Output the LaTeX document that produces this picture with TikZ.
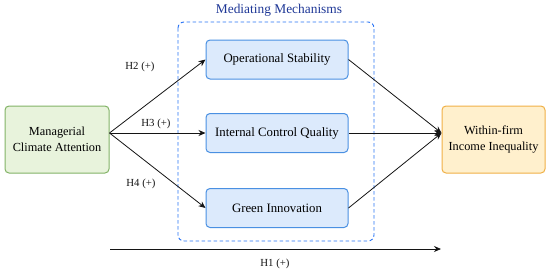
\documentclass[tikz,border=0pt]{standalone}
\usepackage{fontspec}
\setmainfont{Liberation Serif}
\usepackage{tikz}
\usetikzlibrary{arrows.meta,calc,positioning}
\definecolor{ink}{RGB}{20,20,20}
\definecolor{causefill}{RGB}{232,243,220}
\definecolor{causestroke}{RGB}{130,179,102}
\definecolor{medfill}{RGB}{220,234,252}
\definecolor{medstroke}{RGB}{74,144,226}
\definecolor{outfill}{RGB}{255,240,205}
\definecolor{outstroke}{RGB}{240,176,70}
\definecolor{groupstroke}{RGB}{40,115,245}
\definecolor{grouptitle}{RGB}{30,55,150}
\tikzset{
  var/.style={
    draw=#1, line width=1pt, rounded corners=4pt,
    minimum height=67pt, minimum width=104pt,
    align=center, font=\fontsize{12.3}{15.5}\selectfont, inner sep=0pt,
  },
  var/.default=ink,
  med/.style={
    draw=medstroke, fill=medfill, line width=1pt, rounded corners=4pt,
    minimum height=39pt, minimum width=142pt,
    align=center, font=\fontsize{12.8}{15}\selectfont, inner sep=0pt,
  },
  hyp/.style={font=\fontsize{10.8}{12}\selectfont, text=ink},
  arr/.style={-{Stealth[length=7pt,width=6pt]}, line width=0.8pt, draw=ink},
  group/.style={draw=groupstroke, dash pattern=on 3.5pt off 2.5pt, line width=0.9pt, rounded corners=6pt},
}
\begin{document}
\begin{tikzpicture}[x=1pt,y=-1pt]
  \useasboundingbox (0,0) rectangle (550,274);

  % mediating group
  \draw[group] (178,22) rectangle (374,241);
  \node[font=\fontsize{13.4}{15}\selectfont, text=grouptitle] (title) at (279,10) {Mediating Mechanisms};

  \node[var=causestroke, fill=causefill] (cause) at (57,139.5) {Managerial\\Climate Attention};
  \node[med] (m1) at (277,59.5) {Operational Stability};
  \node[med] (m2) at (277,133) {Internal Control Quality};
  \node[med] (m3) at (277,208) {Green Innovation};
  \node[var=outstroke, fill=outfill, minimum width=103pt] (effect) at (493.5,139.5) {Within-firm\\Income Inequality};

  \coordinate (src) at (cause.east |- m2.west);
  \coordinate (dst) at (effect.west |- m2.east);
  \draw[arr] (src) -- (m1.west);
  \draw[arr] (src) -- (m2.west);
  \draw[arr] (src) -- (m3.west);
  \draw[arr] (m1.east) -- (dst);
  \draw[arr] (m2.east) -- (dst);
  \draw[arr] (m3.east) -- (dst);

  \node[hyp] (h2) at (140,67) {H2 (+)};
  \node[hyp] (h3) at (156,124) {H3 (+)};
  \node[hyp] (h4) at (141,184) {H4 (+)};

  % direct effect
  \coordinate (h1a) at (110,249);
  \coordinate (h1b) at (441,249);
  \draw[arr] (h1a) -- (h1b);
  \node[hyp] (h1) at (275,264) {H1 (+)};
\end{tikzpicture}
\end{document}
